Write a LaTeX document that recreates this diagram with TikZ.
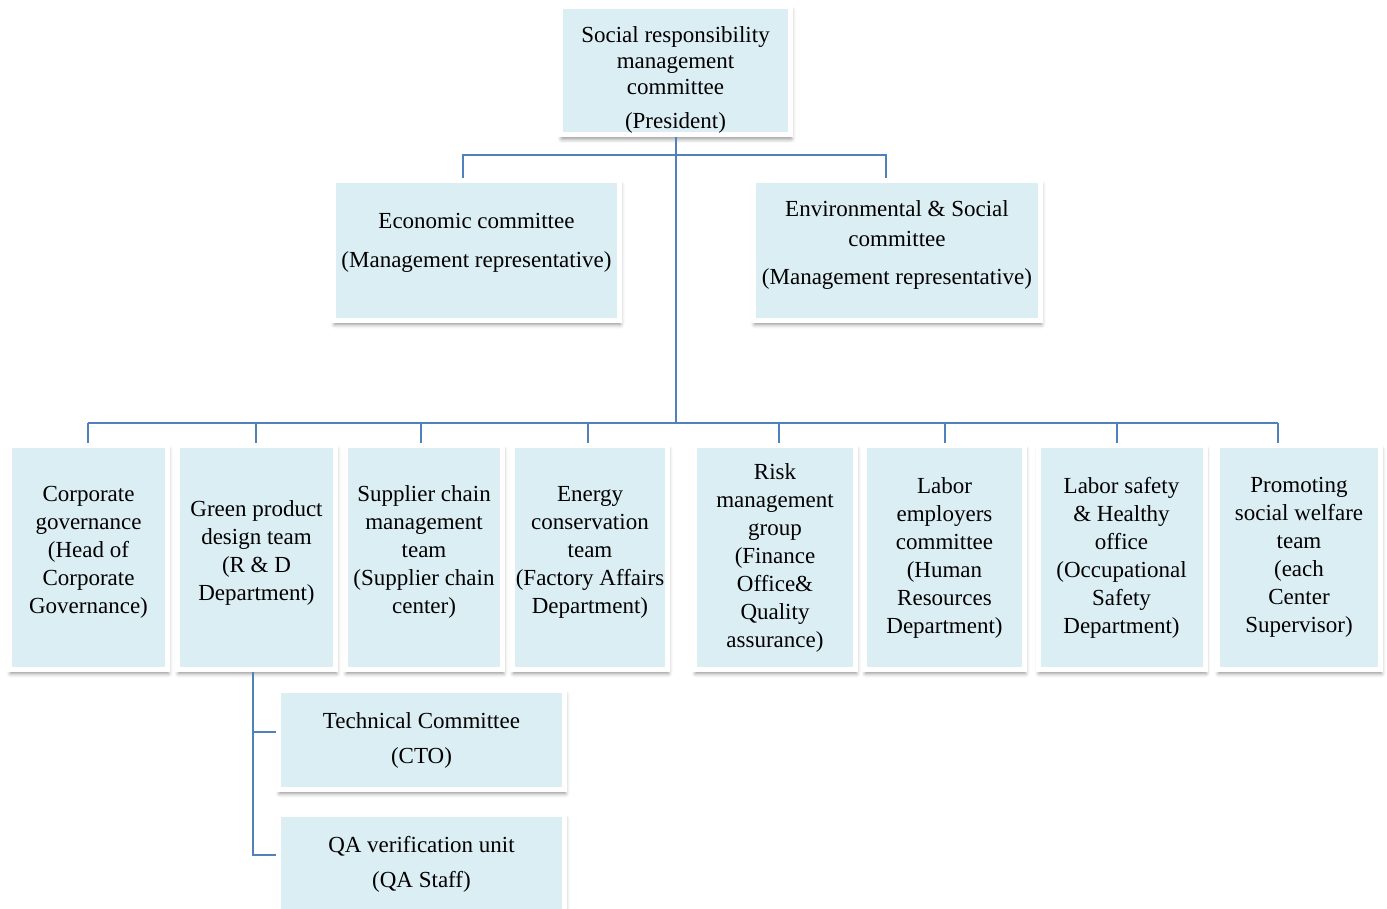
\documentclass[tikz,border=0pt]{standalone}
\usepackage{fontspec}
\setmainfont{Liberation Serif}
\usetikzlibrary{shadows.blur,positioning}
\definecolor{boxblue}{HTML}{DBEEF4}
\definecolor{lineblue}{HTML}{4F81BD}
\newcommand{\lift}[1]{\rule[-#1]{0pt}{0pt}}

\begin{document}
\begin{tikzpicture}[x=1pt, y=-1pt,
            unit/.style={rectangle, fill=boxblue, draw=white, line width=5pt, inner sep=2pt, text centered, align=center,
                font=\fontsize{23}{28}\selectfont,
                blur shadow={shadow xshift=1pt, shadow yshift=-4pt, shadow blur radius=4pt, shadow opacity=45}},
            wide/.style={unit, minimum width=286pt, minimum height=140pt},
            team/.style={unit, minimum height=224pt},
            link/.style={draw=lineblue, line width=1.3pt}
        ]
            \useasboundingbox (0,0) rectangle (1387,909);

            \node[unit, minimum width=230pt, minimum height=120pt] (srm) at (675.5,70.5) {\rule{0pt}{34pt}Social responsibility\\[-2pt] management\\[-2pt] committee\\[6pt] (President)};
            \node[wide] (econ) at (476.5,250.5) {Economic committee\\[11pt] (Management representative)\lift{21pt}};
            \node[wide, minimum width=287pt] (envsoc) at (897,250.5) {Environmental \& Social\\[2pt] committee\\[10pt] (Management representative)\lift{15pt}};

            \node[team, minimum width=158pt] (corp) at (88.5,557.5) {Corporate\\ governance\\ (Head of\\ Corporate\\ Governance)\lift{15pt}};
            \node[team, minimum width=158pt] (green) at (256.5,557.5) {Green product\\ design team\\ (R \& D\\ Department)\lift{14pt}};
            \node[team, minimum width=157pt] (supply) at (424,557.5) {Supplier chain\\ management\\ team\\ (Supplier chain\\ center)\lift{15pt}};
            \node[team, minimum width=155pt] (energy) at (590,557.5) {Energy\\ conservation\\ team\\ (Factory Affairs\\ Department)\lift{15pt}};
            \node[team, minimum width=161pt] (risk) at (775,557.5) {Risk\\ management\\ group\\ (Finance\\ Office\&\\ Quality\\ assurance)};
            \node[team, minimum width=160pt] (labor) at (944.5,557.5) {Labor\\ employers\\ committee\\ (Human\\ Resources\\ Department)};
            \node[team, minimum width=167pt] (safety) at (1121.5,557.5) {Labor safety\\ \& Healthy\\ office\\ (Occupational\\ Safety\\ Department)};
            \node[team, minimum width=163pt] (welfare) at (1299,557.5) {Promoting\\ social welfare\\ team\\ (each\\ Center\\ Supervisor)};

            \node[unit, minimum width=286pt, minimum height=99pt] (tech) at (421.5,740) {Technical Committee\\[7pt] (CTO)};
            \node[unit, minimum width=286pt, minimum height=99pt] (qa) at (421.5,864) {QA verification unit\\[7pt] (QA Staff)};

            % tree lines
            \coordinate (busT) at (676,155);
            \coordinate (busB) at (676,423);
            \draw[link] (srm.south -| busT) -- (busB);
            \draw[link] (econ.north -| 463,0) |- (busT) -| (envsoc.north -| 886,0);
            \draw[link] (busB -| 88,0) -- (busB -| 1278,0);
            \foreach \n/\x in {corp/88, green/256, supply/421, energy/588, risk/779, labor/945, safety/1117, welfare/1278}
                \draw[link] (busB -| \x,0) -- (\n.north -| \x,0);

            \draw[link] (green.south -| 253,0) |- ([yshift=8pt]tech.west);
            \draw[link] (green.south -| 253,0) |- ([yshift=9pt]qa.west);
        \end{tikzpicture}
\end{document}
